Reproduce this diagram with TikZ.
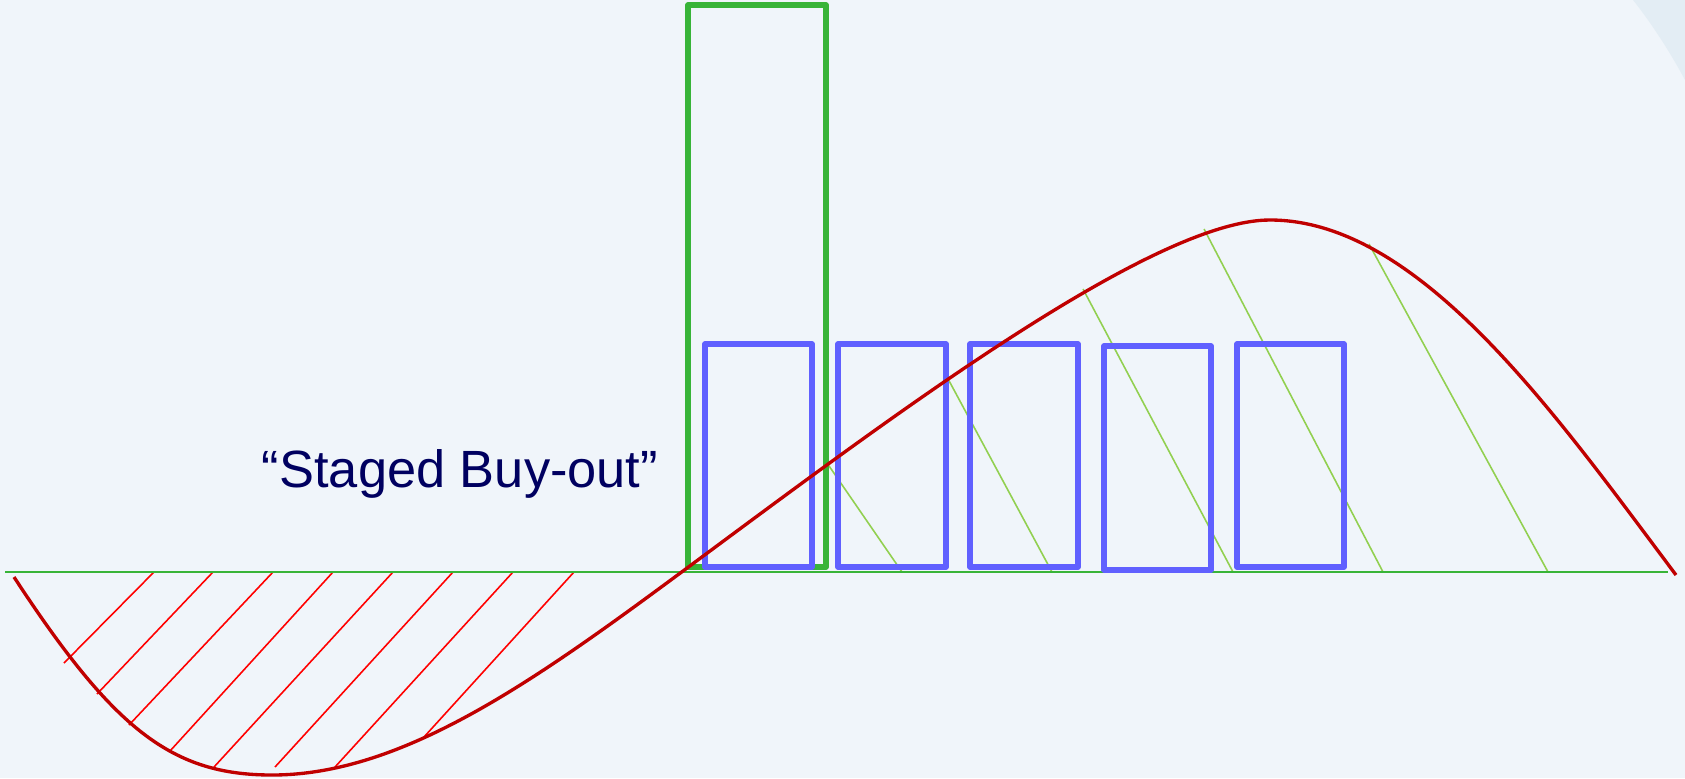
\documentclass[tikz,border=0pt]{standalone}
\usepackage{fontspec}
\setmainfont{Liberation Sans}
\definecolor{bgc}{HTML}{F0F5FA}
\definecolor{cornerc}{HTML}{E3EDF4}
\definecolor{greenc}{HTML}{38B438}
\definecolor{hatchg}{HTML}{92D050}
\definecolor{bluec}{HTML}{6060FF}
\definecolor{curvec}{HTML}{C00000}
\definecolor{hatchr}{HTML}{FF0000}
\definecolor{textc}{HTML}{000060}
\tikzset{
  base line/.style={draw=greenc, line width=0.6pt},
  tall box/.style={draw=greenc, line width=1.55pt, line join=round},
  stage box/.style={draw=bluec, line width=1.45pt, line join=round},
  curve line/.style={draw=curvec, line width=0.95pt},
  red hatch/.style={draw=hatchr, line width=0.45pt},
  green hatch/.style={draw=hatchg, line width=0.45pt},
}
\begin{document}
\begin{tikzpicture}[x=0.01cm, y=-0.01cm]
\fill[bgc] (0,0) rectangle (1685,778);
\useasboundingbox (0,0) rectangle (1685,778);
\fill[cornerc] (1633,0) .. controls (1652,24) and (1670,52) .. (1685,80) -- (1685,0) -- cycle;
% red hatching below the baseline
\draw[red hatch] (154,572) -- (64,663);
\draw[red hatch] (213,572) -- (97,694);
\draw[red hatch] (273,572) -- (129,725);
\draw[red hatch] (333,572) -- (170,751);
\draw[red hatch] (393,572) -- (214,767);
\draw[red hatch] (453,572) -- (275,767);
\draw[red hatch] (513,572) -- (335,767);
\draw[red hatch] (574,572) -- (424,737);
% green hatching above the baseline
\draw[green hatch] (827,463) -- (902,572);
\draw[green hatch] (947,377) -- (1052,572);
\draw[green hatch] (1083,289) -- (1233,572);
\draw[green hatch] (1204,229) -- (1383,572);
\draw[green hatch] (1369,244) -- (1548,572);
% baseline
\coordinate (bl) at (5,572);
\coordinate (br) at (1668,572);
\draw[base line] (bl) -- (br);
% boxes
\draw[tall box] (688,5) rectangle (826,567);
\draw[stage box] (705,344) rectangle (812,567);
\draw[stage box] (838,344) rectangle (946,567);
\draw[stage box] (970,344) rectangle (1078,567);
\draw[stage box] (1104,346) rectangle (1211,570);
\draw[stage box] (1237,344) rectangle (1344,567);
% curve
\coordinate (c0) at (14,577);
\coordinate (c1) at (272,775);
\coordinate (c2) at (683,571);
\coordinate (c3) at (1270,220);
\coordinate (c4) at (1676,575);
\draw[curve line] (c0) .. controls (114,730) and (172,775) .. (c1)
  .. controls (402,775) and (533,682) .. (c2)
  .. controls (883,423) and (1151,220) .. (c3)
  .. controls (1420,220) and (1556,415) .. (c4);
% label
\node[anchor=base, text=textc, font=\fontsize{14.9pt}{17pt}\selectfont, inner sep=0pt] (lbl) at (460,487) {“Staged Buy-out”};
\end{tikzpicture}
\end{document}
